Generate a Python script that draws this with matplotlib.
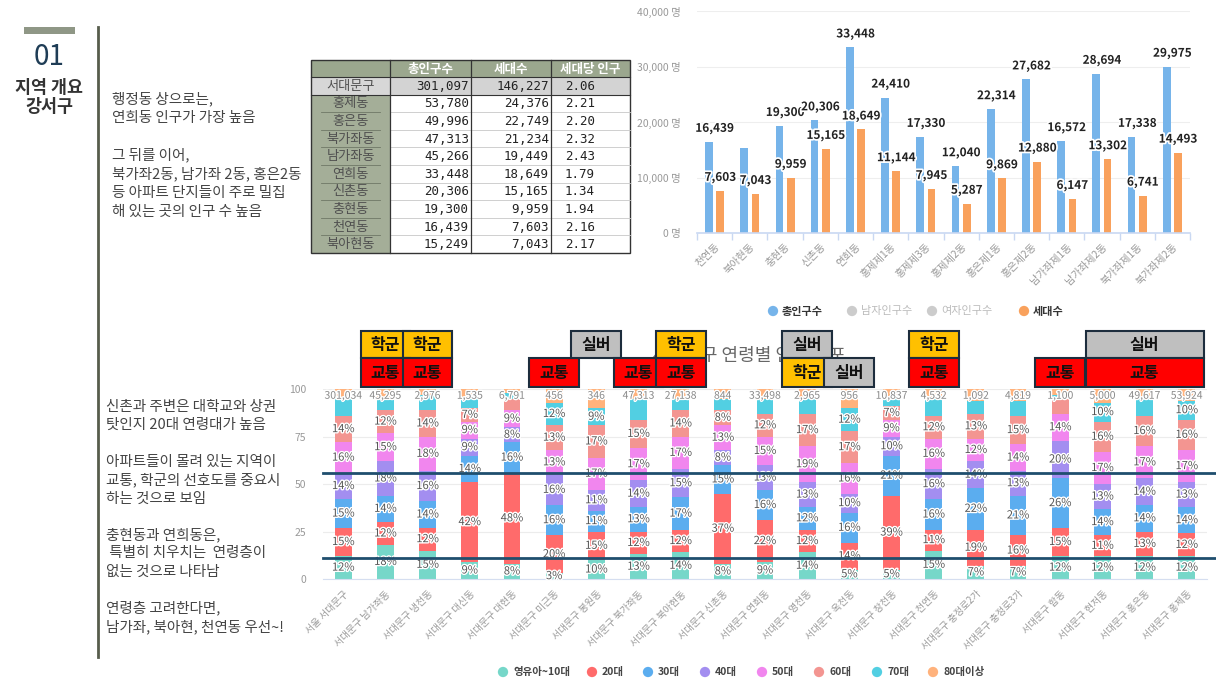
import matplotlib
matplotlib.use('Agg')
import matplotlib.pyplot as plt
import matplotlib.patheffects as pe
from matplotlib.patches import Rectangle
import numpy as np

plt.rcParams['font.family'] = ['Noto Sans CJK KR', 'DejaVu Sans']

# ---------------- data ----------------
# top-right bar chart
dong_names = ['천연동', '북아현동', '충현동', '신촌동', '연희동', '홍제제1동', '홍제제3동',
              '홍제제2동', '홍은제1동', '홍은제2동', '남가좌제1동', '남가좌제2동',
              '북가좌제1동', '북가좌제2동']
total_pop = [16439, 15249, 19300, 20306, 33448, 24410, 17330, 12040, 22314, 27682,
             16572, 28694, 17338, 29975]
households = [7603, 7043, 9959, 15165, 18649, 11144, 7945, 5287, 9869, 12880,
              6147, 13302, 6741, 14493]
unlabeled_total = ['북아현동']
top_legend = ['총인구수', '남자인구수', '여자인구수', '세대수']

# table
table_header = ['', '총인구수', '세대수', '세대당 인구']
table_names = ['서대문구', '홍제동', '홍은동', '북가좌동', '남가좌동', '연희동', '신촌동',
               '충현동', '천연동', '북아현동']
table_pop = ['301,097', '53,780', '49,996', '47,313', '45,266', '33,448', '20,306',
             '19,300', '16,439', '15,249']
table_hh = ['146,227', '24,376', '22,749', '21,234', '19,449', '18,649', '15,165',
            '9,959', '7,603', '7,043']
table_ratio = ['2.06', '2.21', '2.20', '2.32', '2.43', '1.79', '1.34', '1.94', '2.16', '2.17']

# bottom stacked chart (percent)
areas = ['서울 서대문구', '서대문구 남가좌동', '서대문구 냉천동', '서대문구 대신동',
         '서대문구 대현동', '서대문구 미근동', '서대문구 봉원동', '서대문구 북가좌동',
         '서대문구 북아현동', '서대문구 신촌동', '서대문구 연희동', '서대문구 영천동',
         '서대문구 옥천동', '서대문구 창천동', '서대문구 천연동', '서대문구 충정로2가',
         '서대문구 충정로3가', '서대문구 합동', '서대문구 현저동', '서대문구 홍은동',
         '서대문구 홍제동']
area_totals = ['301,034', '45,295', '2,976', '1,535', '6,791', '456', '346', '47,313',
               '27,138', '844', '33,498', '2,965', '956', '10,837', '4,532', '1,092',
               '4,819', '1,100', '5,000', '49,617', '53,924']
age_groups = ['영유아~10대', '20대', '30대', '40대', '50대', '60대', '70대', '80대이상']
age_0_19 = [12, 18, 15, 9, 8, 3, 10, 13, 14, 8, 9, 14, 5, 5, 15, 7, 7, 12, 12, 12, 12]
age_20 = [15, 12, 12, 42, 48, 20, 15, 12, 12, 37, 22, 12, 14, 39, 11, 19, 16, 15, 11, 13, 12]
age_30 = [15, 14, 14, 14, 16, 16, 11, 13, 17, 15, 16, 12, 16, 21, 16, 22, 21, 26, 14, 14, 14]
age_40 = [14, 18, 16, 9, 8, 16, 11, 14, 15, 8, 13, 13, 10, 10, 16, 14, 13, 20, 13, 14, 13]
age_50 = [16, 15, 18, 9, 9, 13, 17, 17, 17, 13, 15, 19, 16, 9, 16, 12, 14, 14, 17, 17, 17]
age_60 = [14, 12, 14, 7, 6, 13, 17, 15, 14, 8, 12, 17, 17, 7, 12, 13, 15, 9, 16, 16, 16]
age_70 = [9, 7, 8, 5, 3, 12, 9, 11, 6, 6, 8, 9, 12, 5, 9, 7, 8, 1, 10, 10, 10]
age_80 = [5, 4, 3, 5, 2, 7, 10, 5, 5, 5, 5, 4, 10, 4, 5, 6, 6, 3, 7, 4, 6]
line_levels = [55.7, 11.2]

# tags above the bottom chart: (text, row, first column, last column)
tags = [('학군', 1, 1, 1), ('학군', 1, 2, 2), ('교통', 0, 1, 1), ('교통', 0, 2, 2),
        ('교통', 0, 5, 5), ('실버', 1, 6, 6), ('교통', 0, 7, 7), ('학군', 1, 8, 8),
        ('교통', 0, 8, 8), ('실버', 1, 11, 11), ('학군', 0, 11, 11), ('실버', 0, 12, 12),
        ('학군', 1, 14, 14), ('교통', 0, 14, 14), ('교통', 0, 17, 17),
        ('실버', 1, 18, 20), ('교통', 0, 18, 20)]

# left text
side_note_1 = ['행정동 상으로는,', '연희동 인구가 가장 높음', '', '그 뒤를 이어,',
               '북가좌2동, 남가좌 2동, 홍은2동', '등 아파트 단지들이 주로 밀집',
               '해 있는 곳의 인구 수 높음']
side_note_2 = ['신촌과 주변은 대학교와 상권', '탓인지 20대 연령대가 높음', '',
               '아파트들이 몰려 있는 지역이', '교통, 학군의 선호도를 중요시',
               '하는 것으로 보임', '', '충현동과 연희동은,', ' 특별히 치우치는  연령층이',
               '없는 것으로 나타남', '', '연령층 고려한다면,', '남가좌, 북아현, 천연동 우선~!']

# ---------------- figure ----------------
W, H = 1216, 684
fig = plt.figure(figsize=(W / 100, H / 100), dpi=100)
fig.patch.set_facecolor('white')

def fx(px):
    return px / W

def fy(py):
    return 1 - py / H

# ---- top bar chart ----
blue = '#76b4ea'
orange = '#f9a15c'
ax1 = fig.add_axes([fx(697), fy(233), fx(1190 - 697), (233 - 11) / H])
x = np.arange(len(dong_names))
ax1.bar(x - 0.16, total_pop, width=0.22, color=blue, zorder=2)
ax1.bar(x + 0.16, households, width=0.22, color=orange, zorder=2)
halo = [pe.withStroke(linewidth=2.5, foreground='white')]
for i, name in enumerate(dong_names):
    if name not in unlabeled_total:
        ax1.annotate(f'{total_pop[i]:,}', (i, total_pop[i]), xytext=(0, 5),
                     textcoords='offset points', ha='center', va='bottom',
                     fontsize=8.5, fontweight='bold', color='#222222',
                     path_effects=halo, zorder=5)
    ax1.annotate(f'{households[i]:,}', (i + 0.16, households[i]), xytext=(0, 5),
                 textcoords='offset points', ha='center', va='bottom',
                 fontsize=8.5, fontweight='bold', color='#222222',
                 path_effects=halo, zorder=5)
ax1.set_xlim(-0.5, len(dong_names) - 0.5)
ax1.set_ylim(0, 40000)
ax1.set_yticks([0, 10000, 20000, 30000, 40000])
ax1.set_yticklabels([f'{v:,} 명' for v in [0, 10000, 20000, 30000, 40000]],
                    fontsize=7.5, color='#999999')
ax1.set_xticks(x)
ax1.set_xticklabels(dong_names, rotation=45, ha='right', rotation_mode='anchor',
                    fontsize=7.5, color='#999999')
ax1.set_xticks(np.arange(len(dong_names) + 1) - 0.5, minor=True)
ax1.tick_params(axis='x', which='major', length=0, pad=6)
ax1.tick_params(axis='x', which='minor', length=5, color='#c9d8f2', width=1)
ax1.tick_params(axis='y', length=0, pad=12)
ax1.grid(axis='y', color='#eeeeee', linewidth=0.8, zorder=0)
for s in ['top', 'right', 'left']:
    ax1.spines[s].set_visible(False)
ax1.spines['bottom'].set_color('#c9d8f2')
ax1.spines['bottom'].set_linewidth(1.2)

# ---- bottom stacked chart ----
age_colors = ['#76d7c9', '#ff6b6b', '#5badef', '#a38ef0', '#f186ee', '#f39591',
              '#52cfe2', '#ffb27c']
ax2 = fig.add_axes([fx(323), fy(579), fx(1207 - 323), (579 - 389.3) / H])
xb = np.arange(len(areas))
series = [age_0_19, age_20, age_30, age_40, age_50, age_60, age_70, age_80]
bottom = np.zeros(len(areas))
pct_halo = [pe.withStroke(linewidth=2, foreground='white')]
for g, vals in enumerate(series):
    vals = np.array(vals, dtype=float)
    ax2.bar(xb, vals, bottom=bottom, width=0.4, color=age_colors[g], zorder=2)
    for i, v in enumerate(vals):
        c = bottom[i] + v / 2
        if (v >= 7 or g == 0) and c <= 89:
            ax2.text(i, c, f'{int(v)}%', ha='center', va='center', fontsize=8,
                     color='#555555', path_effects=pct_halo, zorder=4)
    bottom += vals
for i, t in enumerate(area_totals):
    ax2.text(i, 96.6, t, ha='center', va='center', fontsize=7.5, color='#888888',
             path_effects=pct_halo, zorder=4)
for lv in line_levels:
    ax2.plot([-0.48, 20.7], [lv, lv], color='#1f4e6e', linewidth=2, clip_on=False, zorder=6)
ax2.set_xlim(-0.48, len(areas) - 0.52)
ax2.set_ylim(0, 100)
ax2.set_yticks([0, 25, 50, 75, 100])
ax2.set_yticklabels(['0', '25', '50', '75', '100'], fontsize=7.5, color='#999999')
ax2.tick_params(axis='y', length=0, pad=12)
ax2.set_xticks(xb)
ax2.set_xticklabels(areas, rotation=45, ha='right', rotation_mode='anchor',
                    fontsize=7, color='#999999')
ax2.tick_params(axis='x', length=0, pad=7)
ax2.grid(axis='y', color='#ececec', linewidth=0.8, zorder=0)
for s in ['top', 'right', 'left']:
    ax2.spines[s].set_visible(False)
ax2.spines['bottom'].set_color('#d5def0')

# title partly hidden behind tags
ax2.text(9.6, 117.5, '서대문구 연령별 인구 분포', ha='center', va='center', fontsize=13,
         color='#666666', zorder=1, clip_on=False)

tag_colors = {'학군': '#ffc000', '교통': '#ff0000', '실버': '#bfbfbf'}
row_y = [(101.2, 116.5), (116.5, 130.7)]
for text, row, c0, c1 in tags:
    pad = 0.59 if c0 == c1 else 0.4
    x0, x1 = c0 - pad, c1 + pad
    y0, y1 = row_y[row]
    ax2.add_patch(Rectangle((x0, y0), x1 - x0, y1 - y0, facecolor=tag_colors[text],
                            edgecolor='#1d2d3d', linewidth=1.5, clip_on=False, zorder=8))
    ax2.text((x0 + x1) / 2, (y0 + y1) / 2, text, ha='center', va='center', fontsize=11.5,
             fontweight='bold', color='#111111', clip_on=False, zorder=9)

# ---- decoration layer in pixel coordinates ----
deco = fig.add_axes([0, 0, 1, 1])
deco.set_xlim(0, W)
deco.set_ylim(H, 0)
deco.axis('off')
deco.patch.set_alpha(0)

deco.add_patch(Rectangle((24, 27), 51, 7, facecolor='#8f9786', edgecolor='none'))
deco.text(49, 57, '01', ha='center', va='center', fontsize=20, color='#1f3d56')
deco.text(49, 88, '지역 개요', ha='center', va='center', fontsize=12.5,
          fontweight='bold', color='#333333')
deco.text(49, 107, '강서구', ha='center', va='center', fontsize=12.5,
          fontweight='bold', color='#333333')
deco.plot([98, 98], [27, 657], color='#575d4c', linewidth=2)

for k, line in enumerate(side_note_1):
    deco.text(112, 99 + k * 18.8, line, ha='left', va='center', fontsize=10.5, color='#444444')
for k, line in enumerate(side_note_2):
    deco.text(106, 407 + k * 18.3, line, ha='left', va='center', fontsize=10.5, color='#444444')

# table
col_x = [311, 390, 471, 551, 630]
head_top, head_bot = 60, 77
row_h = 17.6
sage_head = '#9ba78e'
sage_name = '#a4ae98'
deco.add_patch(Rectangle((col_x[0], head_top), col_x[-1] - col_x[0], head_bot - head_top,
                         facecolor=sage_head, edgecolor='none'))
for j in range(1, 4):
    deco.text((col_x[j] + col_x[j + 1]) / 2, (head_top + head_bot) / 2 + 0.5, table_header[j],
              ha='center', va='center', fontsize=9, fontweight='bold', color='white')
for r, name in enumerate(table_names):
    y0 = head_bot + r * row_h
    first = r == 0
    deco.add_patch(Rectangle((col_x[0], y0), col_x[1] - col_x[0], row_h,
                             facecolor='#d7d7d7' if first else sage_name, edgecolor='none'))
    deco.add_patch(Rectangle((col_x[1], y0), col_x[-1] - col_x[1], row_h,
                             facecolor='#d3d3d3' if first else 'white', edgecolor='none'))
    if r > 0:
        deco.plot([col_x[1], col_x[-1]], [y0, y0], color='#c8c8c8', linewidth=0.6)
        deco.plot([col_x[0] + 10, col_x[1] - 10], [y0, y0], color='#6f7866', linewidth=0.6)
    yc = y0 + row_h / 2 + 0.5
    deco.text((col_x[0] + col_x[1]) / 2, yc, name, ha='center', va='center', fontsize=9.5,
              color='#505050')
    deco.text(col_x[2] - 2, yc, table_pop[r], ha='right', va='center', fontsize=9,
              family=['DejaVu Sans Mono'], color='#222222')
    deco.text(col_x[3] - 2, yc, table_hh[r], ha='right', va='center', fontsize=9,
              family=['DejaVu Sans Mono'], color='#222222')
    deco.text(580, yc, table_ratio[r], ha='center', va='center', fontsize=9,
              family=['DejaVu Sans Mono'], color='#222222')
tab_bot = head_bot + len(table_names) * row_h
deco.plot([col_x[0], col_x[-1]], [head_bot, head_bot], color='#333333', linewidth=0.8)
deco.plot([col_x[0], col_x[-1]], [head_bot + row_h, head_bot + row_h], color='#333333',
          linewidth=0.8)
for cx in col_x[1:-1]:
    deco.plot([cx, cx], [head_top, tab_bot], color='#333333', linewidth=0.9)
deco.add_patch(Rectangle((col_x[0], head_top), col_x[-1] - col_x[0], tab_bot - head_top,
                         facecolor='none', edgecolor='#333333', linewidth=1.0))

# top legend
top_leg_x = [773, 852, 932, 1024]
top_leg_col = [blue, '#cccccc', '#cccccc', orange]
top_leg_txt = ['#333333', '#bbbbbb', '#bbbbbb', '#333333']
for lx, lab, c, tc in zip(top_leg_x, top_legend, top_leg_col, top_leg_txt):
    deco.scatter([lx], [311], s=55, color=c, edgecolors='none')
    deco.text(lx + 9, 311, lab, ha='left', va='center', fontsize=8, color=tc,
              fontweight='bold' if tc == '#333333' else 'normal')

# bottom legend
bot_leg_x = [503, 592, 648, 705, 762, 819, 877, 933]
for lx, lab, c in zip(bot_leg_x, age_groups, age_colors):
    deco.scatter([lx], [672], s=55, color=c, edgecolors='none')
    deco.text(lx + 10, 672, lab, ha='left', va='center', fontsize=7.5, color='#444444',
              fontweight='bold')

fig.savefig('out.png', dpi=100)
